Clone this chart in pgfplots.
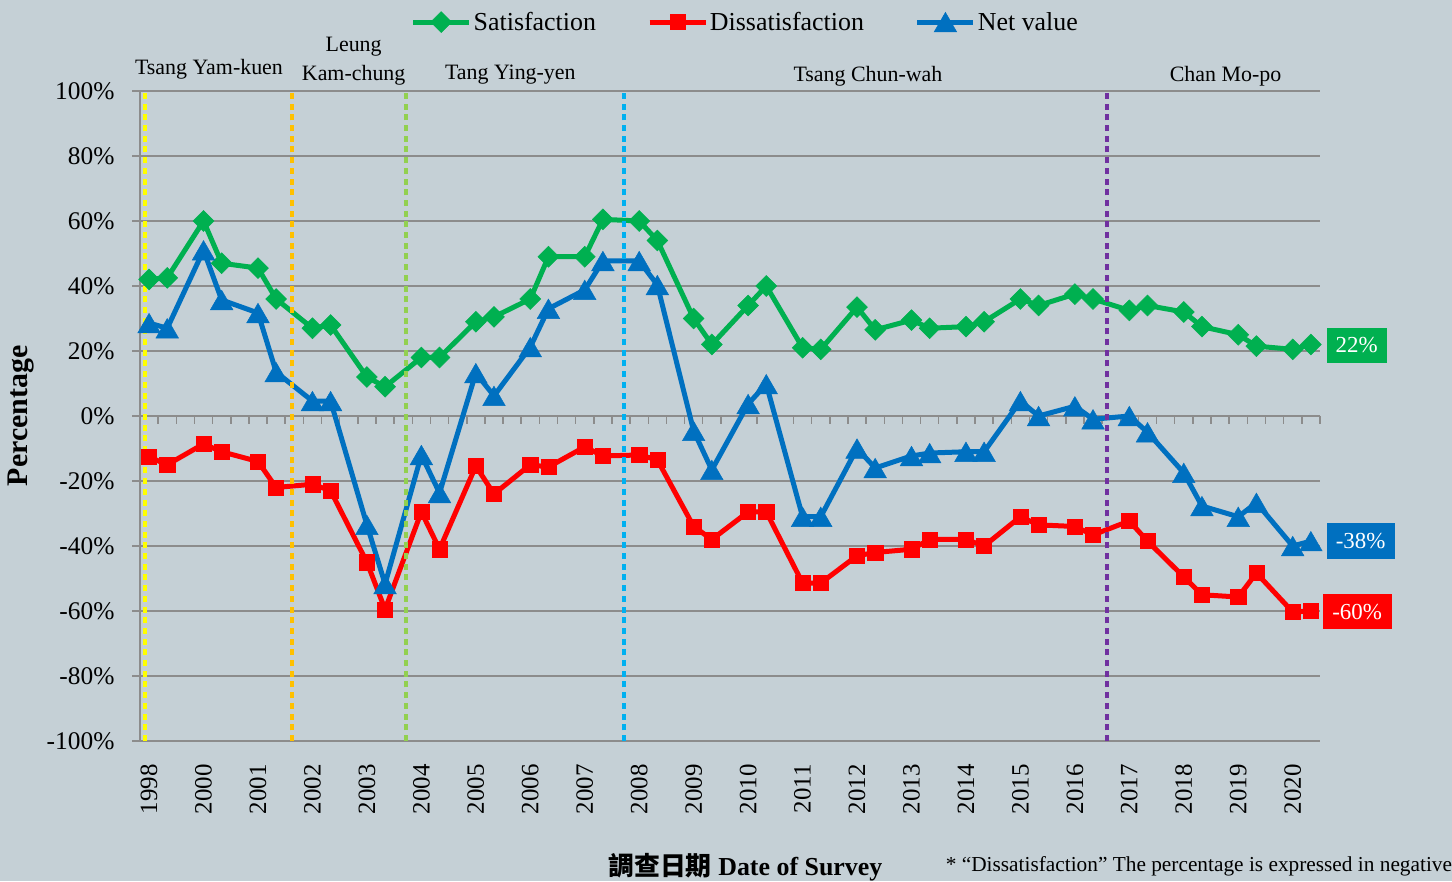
\documentclass[border=0pt]{standalone}
\usepackage{fontspec}
\setmainfont{Liberation Serif}
\newfontfamily\cjk{Noto Sans CJK TC}
\usepackage{pgfplots}
\pgfplotsset{compat=1.18}
\definecolor{bg}{RGB}{197,208,214}
\definecolor{gridgray}{RGB}{140,140,140}
\definecolor{sgreen}{RGB}{0,176,80}
\definecolor{sred}{RGB}{255,0,0}
\definecolor{sblue}{RGB}{0,112,192}
\definecolor{vyellow}{RGB}{255,255,0}
\definecolor{vorange}{RGB}{255,192,0}
\definecolor{vgreen}{RGB}{146,208,80}
\definecolor{vcyan}{RGB}{0,176,240}
\definecolor{vpurple}{RGB}{112,48,160}

\pgfplotstableread{
x sat
0 42
1 42.5
3 60
4 47
6 45.5
7 36
9 27
10 28
12 12
13 9
15 18
16 18
18 29
19 30.5
21 36
22 49
24 49
25 60.5
27 60
28 54
30 30
31 22
33 34
34 40
36 21
37 20.5
39 33.5
40 26.5
42 29.5
43 27
45 27.5
46 29
48 36
49 34
51 37.5
52 36
54 32.5
55 34
57 32
58 27.5
60 25
61 21.5
63 20.5
64 22
}\satdata

\pgfplotstableread{
x dis
0 -12.6
1 -15
3 -8.6
4 -11
6 -14
7 -22
9 -21
10 -23
12 -45
13 -59.5
15 -29.5
16 -41
18 -15.4
19 -24
21 -15
22 -15.7
24 -9.5
25 -12.3
27 -12
28 -13.5
30 -34
31 -38
33 -29.5
34 -29.5
36 -51.4
37 -51.4
39 -43
40 -42
42 -41
43 -38
45 -38
46 -40
48 -31
49 -33.5
51 -34
52 -36.6
54 -32.3
55 -38.5
57 -49.5
58 -55
60 -55.7
61 -48.3
63 -60.3
64 -60
}\disdata

\pgfplotstableread{
x net
0 28.6
1 27
3 51
4 35.7
6 31.7
7 13.5
9 4.6
10 4.6
12 -33.5
13 -51.7
15 -12
16 -23.7
18 13.2
19 6.2
21 21.2
22 33
24 38.8
25 47.7
27 47.7
28 40.3
30 -4.6
31 -16.6
33 3.7
34 9.8
36 -31
37 -31
39 -10
40 -16
42 -12.3
43 -11.4
45 -11
46 -11
48 4.6
49 0
51 3
52 -1
54 0
55 -5
57 -17.5
58 -27.7
60 -31
61 -26.7
63 -40
64 -38.5
}\netdata

\begin{document}
\begin{tikzpicture}[x=1bp,y=1bp]
\fill[bg] (0,0) rectangle (1452,881);
\begin{axis}[
  at={(140bp,140bp)}, anchor=south west,
  scale only axis, width=1180bp, height=650bp,
  xmin=-0.5, xmax=64.5, ymin=-100, ymax=100,
  axis lines=left, axis line style={-, gridgray, line width=1.5bp},
  clip=false,
  xtick={0,3,...,63},
  xticklabels={1998,2000,2001,2002,2003,2004,2005,2006,2007,2008,2009,2010,2011,2012,2013,2014,2015,2016,2017,2018,2019,2020},
  xticklabel style={rotate=90, anchor=east, font=\fontsize{25}{29}\selectfont},
  xticklabel shift=12bp,
  x tick style={draw=none},
  ytick={-100,-80,...,100},
  yticklabels={-100\%,-80\%,-60\%,-40\%,-20\%,0\%,20\%,40\%,60\%,80\%,100\%},
  yticklabel style={font=\fontsize{25.5}{29}\selectfont},
  yticklabel shift=14bp,
  y tick style={gridgray, line width=1.5bp},
  tick align=outside, major tick length=8bp,
  ymajorgrids, grid style={gridgray, line width=1.5bp},
  ylabel={\bfseries Percentage},
  ylabel style={at={(axis description cs:-0.101,0.5)}, anchor=center, font=\fontsize{30}{34}\selectfont},
  xlabel={{\cjk\bfseries 調查日期} \bfseries Date of Survey},
  xlabel style={at={(axis description cs:0.513,-0.194)}, anchor=center, font=\fontsize{26}{30}\selectfont},
  legend columns=3,
  legend style={at={(axis description cs:0.513,1.106)}, anchor=center, draw=none, fill=none,
    font=\fontsize{26}{30}\selectfont, /tikz/every even column/.append style={column sep=49bp}},
  legend image code/.code={\draw[mark repeat=2,mark phase=2,#1] plot coordinates {(0bp,0bp) (28bp,0bp) (56bp,0bp)};},
]
\pgfplotsinvokeforeach{-0.5,0.5,...,64.5}{
  \draw[gridgray, line width=1.5bp] (axis cs:#1,0) -- ([yshift=-8bp]axis cs:#1,0);
}
\draw[gridgray, line width=1.5bp] (axis cs:-0.5,0) -- (axis cs:64.5,0);

\addplot[sgreen, line width=5bp, mark=square*, mark size=7.4bp, mark options={rotate=45, solid, line width=0.5bp, fill=sgreen}] table[x=x,y=sat] {\satdata};
\addlegendentry{Satisfaction}
\addplot[sred, line width=5bp, mark=square*, mark size=7.6bp, mark options={solid, line width=0.5bp, fill=sred}] table[x=x,y=dis] {\disdata};
\addlegendentry{Dissatisfaction}
\addplot[sblue, line width=5bp, mark=triangle*, mark size=13bp, mark options={solid, line width=0.5bp, fill=sblue, yshift=-3.3bp}] table[x=x,y=net] {\netdata};
\addlegendentry{Net value}

\draw[vyellow, line width=4bp, dash pattern=on 6bp off 4.7bp] (axis cs:-0.22,-100) -- (axis cs:-0.22,100);
\draw[vorange, line width=4bp, dash pattern=on 6bp off 4.7bp] (axis cs:7.86,-100) -- (axis cs:7.86,100);
\draw[vgreen, line width=4bp, dash pattern=on 6bp off 4.7bp] (axis cs:14.13,-100) -- (axis cs:14.13,100);
\draw[vcyan, line width=4bp, dash pattern=on 6bp off 4.7bp] (axis cs:26.17,-100) -- (axis cs:26.17,100);
\draw[vpurple, line width=4bp, dash pattern=on 6bp off 4.7bp] (axis cs:52.78,-100) -- (axis cs:52.78,100);

\node[font=\fontsize{22}{25}\selectfont] at (axis cs:3.3,106.8) {Tsang Yam-kuen};
\node[font=\fontsize{22}{25}\selectfont] at (axis cs:11.27,113.6) {Leung};
\node[font=\fontsize{22}{25}\selectfont] at (axis cs:11.27,104.9) {Kam-chung};
\node[font=\fontsize{22}{25}\selectfont] at (axis cs:19.9,104.9) {Tang Ying-yen};
\node[font=\fontsize{22}{25}\selectfont] at (axis cs:39.6,104.6) {Tsang Chun-wah};
\node[font=\fontsize{22}{25}\selectfont] at (axis cs:59.3,104.6) {Chan Mo-po};

\node[fill=sgreen, text=white, font=\fontsize{23}{26}\selectfont, inner sep=0pt, minimum width=60bp, minimum height=35bp] at (axis cs:66.52,21.7) {22\%};
\node[fill=sblue, text=white, font=\fontsize{23}{26}\selectfont, inner sep=0pt, minimum width=68bp, minimum height=36bp] at (axis cs:66.74,-38.5) {-38\%};
\node[fill=sred, text=white, font=\fontsize{23}{26}\selectfont, inner sep=0pt, minimum width=69bp, minimum height=35bp] at (axis cs:66.55,-60.2) {-60\%};

\node[anchor=west, font=\fontsize{21.4}{25}\selectfont] at (axis description cs:0.68,-0.192) {* “Dissatisfaction" The percentage is expressed in negative};
\end{axis}
\pgfresetboundingbox
\path[use as bounding box] (0,0) rectangle (1452,881);
\end{tikzpicture}
\end{document}
